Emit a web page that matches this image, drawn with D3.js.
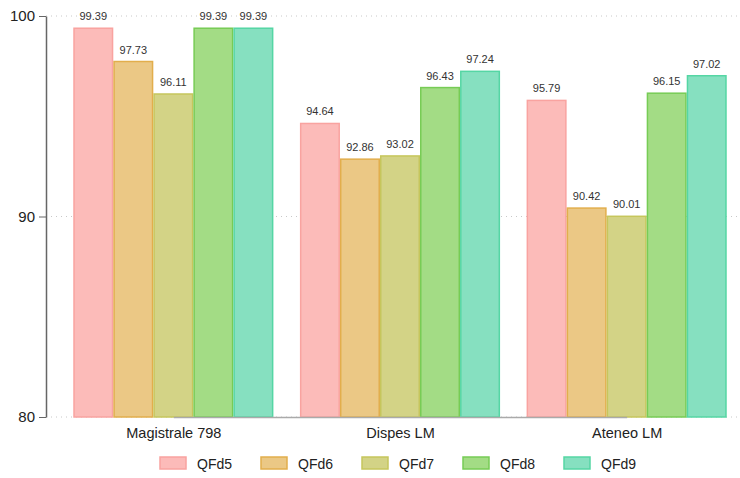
<!DOCTYPE html>
<html><head><meta charset="utf-8">
<script src="https://cdn.jsdelivr.net/npm/d3@7"></script>
<style>body{margin:0;background:#fff;} svg{font-family:"Liberation Sans",Arial,sans-serif;}</style>
</head><body><svg id="c" width="740" height="478"></svg>
<script>
const categories = ["Magistrale 798", "Dispes LM", "Ateneo LM"];
const series = ["QFd5", "QFd6", "QFd7", "QFd8", "QFd9"];
const QFd5 = [99.39, 94.64, 95.79];
const QFd6 = [97.73, 92.86, 90.42];
const QFd7 = [96.11, 93.02, 90.01];
const QFd8 = [99.39, 96.43, 96.15];
const QFd9 = [99.39, 97.24, 97.02];
const yTicks = [80, 90, 100];
const fills = ["#fcbbb9", "#ebc885", "#d3d386", "#a3dc85", "#86e0c0"];
const strokes = ["#f9a3a0", "#e2ae4c", "#c6c65c", "#77cc55", "#55d6a4"];
const values = [QFd5, QFd6, QFd7, QFd8, QFd9];

const svg = d3.select("#c");
const y = d3.scaleLinear().domain([80, 100]).range([417, 16]);
const x0 = d3.scaleBand().domain(categories).range([60, 740]).paddingInner(0.117).paddingOuter(0.0585);
const x1 = d3.scaleBand().domain(series).range([0, x0.bandwidth()]);
const xp = d3.scalePoint().domain(categories).range([x0(categories[0]) + x0.bandwidth()/2, x0(categories[2]) + x0.bandwidth()/2]);

// gridlines
svg.append("g").selectAll("line").data(yTicks).join("line")
  .attr("x1", 46).attr("x2", 740).attr("y1", d => y(d)).attr("y2", d => y(d))
  .attr("stroke", "#c8c8c8").attr("stroke-dasharray", "1,4").attr("stroke-width", 1);

// bars
const groups = svg.append("g").selectAll("g").data(categories).join("g")
  .attr("transform", d => `translate(${x0(d)},0)`);
groups.selectAll("rect").data((c, ci) => series.map((s, si) => ({s, si, v: values[si][ci]}))).join("rect")
  .attr("x", d => x1(d.s) + 0.75).attr("width", x1.bandwidth() - 1.5)
  .attr("y", d => y(d.v)).attr("height", d => y(80) - y(d.v))
  .attr("fill", d => fills[d.si]).attr("stroke", d => strokes[d.si]).attr("stroke-width", 1.5);
groups.selectAll("text").data((c, ci) => series.map((s, si) => ({s, si, v: values[si][ci]}))).join("text")
  .attr("x", d => x1(d.s) + x1.bandwidth()/2).attr("y", d => y(d.v) - 8)
  .attr("text-anchor", "middle").attr("font-size", 11).attr("fill", "#333")
  .text(d => d.v.toFixed(2));

// x axis line
const xAxis = svg.append("g").attr("transform", "translate(0,417)")
  .call(d3.axisBottom(xp).tickSize(0).tickPadding(11));
xAxis.select(".domain").attr("stroke", "#aaa").attr("stroke-width", 1.5);
xAxis.selectAll("text").attr("font-size", 14.5).attr("fill", "#222").attr("font-family", "Liberation Sans, Arial, sans-serif");

// y axis
const yAxis = svg.append("g").attr("transform", "translate(46,0)")
  .call(d3.axisLeft(y).tickValues(yTicks).tickSize(7).tickPadding(4).tickSizeOuter(0));
yAxis.select(".domain").attr("stroke", "#666").attr("stroke-width", 1.5);
yAxis.selectAll(".tick line").attr("stroke", "#666");
yAxis.selectAll("text").attr("font-size", 15).attr("fill", "#222").attr("font-family", "Liberation Sans, Arial, sans-serif");

// legend
const lg = svg.append("g").selectAll("g").data(series).join("g")
  .attr("transform", (d, i) => `translate(${160 + i * 101},457)`);
lg.append("rect").attr("width", 26).attr("height", 12)
  .attr("fill", (d, i) => fills[i]).attr("stroke", (d, i) => strokes[i]).attr("stroke-width", 1.5);
lg.append("text").attr("x", 37).attr("y", 11.5).attr("font-size", 14).attr("fill", "#222").text(d => d);
</script></body></html>
